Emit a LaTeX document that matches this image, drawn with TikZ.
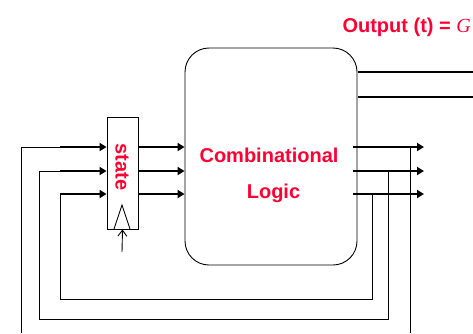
\documentclass[tikz,border=0pt]{standalone}
\usepackage{fontspec}
\setmainfont{Liberation Sans}
\newfontfamily\serifit{Liberation Serif}
\usepackage{xcolor}
\usetikzlibrary{arrows.meta,positioning}
\definecolor{labelred}{RGB}{255,0,51}

\begin{document}
\begin{tikzpicture}[x=1pt,y=-1pt,>={Triangle[length=7pt,width=8pt]},
  bus/.style={line width=2pt},
  wire/.style={line width=0.9pt},
  lbl/.style={text=labelred,font=\fontsize{20}{24}\selectfont\bfseries}]
\useasboundingbox (0,0) rectangle (473,333);
% boxes
\node[draw,wire,minimum width=31pt,minimum height=112pt,inner sep=0pt] (state) at (122.5,173) {};
\node[draw,wire,rounded corners=24pt,minimum width=172pt,minimum height=217pt] (logic) at (271,156.5) {};
\node[lbl,rotate=-90] (statelbl) at (122,167) {state};
\node[lbl,anchor=base] (comblbl) at (269,162) {Combinational};
\node[lbl,anchor=base] (logiclbl) at (273.5,198) {Logic};
\node[lbl,anchor=base west] (outlbl) at (339,32) {Output (t) = {\serifit\mdseries\itshape G}};
% wire ends
\foreach \i/\y in {1/147,2/171,3/194}{
  \coordinate (src\i) at (60,\y);
  \coordinate (sin\i) at (state.west |- 0,\y);
  \coordinate (sout\i) at (state.east |- 0,\y);
  \coordinate (lin\i) at (logic.west |- 0,\y);
  \coordinate (lout\i) at (353,\y);
  \coordinate (tip\i) at (424,\y);
}
\coordinate (tap1) at (410,147);
\coordinate (tap2) at (388,171);
\coordinate (tap3) at (372,194);
\coordinate (o1) at (358,72);
\coordinate (o1e) at (473,72);
\coordinate (o2) at (358,97);
\coordinate (o2e) at (473,97);
\coordinate (clk) at (122,252);
% buses
\foreach \i in {1,2,3}{
  \draw[bus,->] (src\i) -- (sin\i);
  \draw[bus,->] (sout\i) -- (lin\i);
  \draw[bus,->] (lout\i) -- (tip\i);
}
\draw[bus] (o1) -- (o1e);
\draw[bus] (o2) -- (o2e);
% feedback
\draw[wire] (tap3) -- ++(0,105) -| (src3);
\draw[wire] (tap2) -- ++(0,148) -| (39,171) -- (src2);
\draw[wire] (tap1) -- (410,333);
\draw[wire] (21,333) |- (src1);
% clock
\draw[wire] (114,229) -- (122,205) -- (130,229);
\draw[wire,-{Straight Barb[length=6pt,width=9pt]}] (clk) -- (state.south);
\end{tikzpicture}
\end{document}
